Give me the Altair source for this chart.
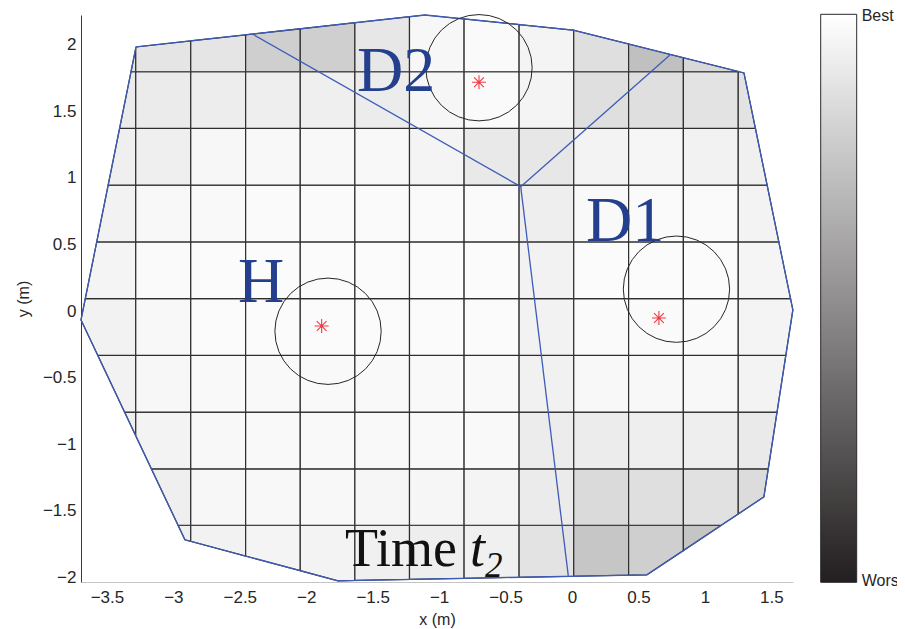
import altair as alt
import pandas as pd

# ---------------- data ----------------
# grid cell edges (m)
x_edges = [-3.695, -3.283, -2.869, -2.456, -2.045, -1.634, -1.223, -0.812,
           -0.398, 0.013, 0.426, 0.838, 1.251, 1.663]
y_edges = [-2.035, -1.609, -1.185, -0.759, -0.333, 0.093, 0.519, 0.945,
           1.371, 1.797, 2.223]

# cell scores (0 = Worst, 1 = Best), rows listed from top to bottom
score_rows = [
    [0.886, 0.882, 0.886, 0.786, 0.786, 0.895, 0.964, 0.977, 0.950, 0.859, 0.718, 0.827, 0.827],
    [0.909, 0.909, 0.918, 0.923, 0.927, 0.914, 0.959, 0.977, 0.950, 0.855, 0.859, 0.877, 0.877],
    [0.927, 0.927, 0.964, 0.968, 0.968, 0.968, 0.950, 0.900, 0.891, 0.945, 0.959, 0.941, 0.932],
    [0.941, 0.968, 0.973, 0.977, 0.977, 0.977, 0.977, 0.977, 0.923, 0.973, 0.977, 0.977, 0.945],
    [0.950, 0.977, 0.982, 0.982, 0.982, 0.982, 0.982, 0.982, 0.941, 0.982, 0.982, 0.982, 0.955],
    [0.941, 0.968, 0.982, 0.982, 0.982, 0.982, 0.982, 0.982, 0.941, 0.977, 0.977, 0.977, 0.950],
    [0.941, 0.964, 0.973, 0.973, 0.973, 0.973, 0.973, 0.973, 0.936, 0.968, 0.968, 0.968, 0.945],
    [0.927, 0.945, 0.968, 0.973, 0.973, 0.973, 0.973, 0.973, 0.914, 0.914, 0.923, 0.923, 0.905],
    [0.927, 0.927, 0.964, 0.968, 0.968, 0.959, 0.959, 0.950, 0.909, 0.836, 0.859, 0.864, 0.845],
    [0.927, 0.927, 0.941, 0.950, 0.945, 0.932, 0.923, 0.932, 0.873, 0.745, 0.786, 0.741, 0.845],
]

# outer boundary (convex hull) vertices
hull_x = [-3.281, -1.107, 0.007, 1.294, 1.662, 1.444, 0.564, -1.761, -2.913, -3.695]
hull_y = [1.983, 2.223, 2.110, 1.788, 0.008, -1.396, -1.981, -2.026, -1.718, -0.067]

# partition lines: from junction to three boundary points
junction = (-0.386, 0.934)
part_x = [-2.401, 0.737, -0.028]
part_y = [2.078, 1.923, -1.989]

# agents: circle centres, estimated positions (stars), labels
agent_names = ["H", "D2", "D1"]
circle_x = [-1.836, -0.700, 0.786]
circle_y = [-0.152, 1.827, 0.164]
circle_r = 0.40
star_x = [-1.884, -0.700, 0.654]
star_y = [-0.112, 1.718, -0.052]
label_x = [-2.514, -1.618, 0.105]
label_y = [0.068, 1.655, 0.529]

time_text = ["Time", "t", "2"]
time_x = [-1.709, -0.768, -0.655]
time_y = [-1.914, -1.914, -1.994]

x_ticks = [-3.5, -3, -2.5, -2, -1.5, -1, -0.5, 0, 0.5, 1, 1.5]
y_ticks = [-2, -1.5, -1, -0.5, 0, 0.5, 1, 1.5, 2]

# colour-bar end labels (score positions)
bar_values = [0.002, 0.997]

# ---------------- geometry helpers ----------------
hull = list(zip(hull_x, hull_y))


def clip_to_hull(poly, hull_pts):
    n = len(hull_pts)
    area = sum(hull_pts[i][0] * hull_pts[(i + 1) % n][1] - hull_pts[(i + 1) % n][0] * hull_pts[i][1]
               for i in range(n))
    sign = 1 if area > 0 else -1
    out = poly
    for i in range(n):
        a = hull_pts[i]
        b = hull_pts[(i + 1) % n]
        inp, out = out, []
        if not inp:
            break

        def side(p):
            return sign * ((b[0] - a[0]) * (p[1] - a[1]) - (b[1] - a[1]) * (p[0] - a[0]))

        for j in range(len(inp)):
            p, q = inp[j], inp[(j + 1) % len(inp)]
            sp, sq = side(p), side(q)
            if sp >= 0:
                out.append(p)
            if (sp >= 0) != (sq >= 0):
                t = sp / (sp - sq)
                out.append((p[0] + t * (q[0] - p[0]), p[1] + t * (q[1] - p[1])))
    return out


cell_rows = []
nrows = len(y_edges) - 1
for r in range(nrows):
    for c in range(len(x_edges) - 1):
        x0, x1 = x_edges[c], x_edges[c + 1]
        y0, y1 = y_edges[r], y_edges[r + 1]
        poly = clip_to_hull([(x0, y0), (x1, y0), (x1, y1), (x0, y1)], hull)
        if len(poly) < 3:
            continue
        poly = poly + [poly[0]]
        s = score_rows[nrows - 1 - r][c]
        for k, (px, py) in enumerate(poly):
            cell_rows.append({"cell": f"c{r}_{c}", "k": k, "x": px, "y": py, "score": s})
cells = pd.DataFrame(cell_rows)

line_rows = []
for k, (hx, hy) in enumerate(hull + [hull[0]]):
    line_rows.append({"seg": "hull", "k": k, "x": hx, "y": hy})
for i, (ex, ey) in enumerate(zip(part_x, part_y)):
    line_rows.append({"seg": f"p{i}", "k": 0, "x": junction[0], "y": junction[1]})
    line_rows.append({"seg": f"p{i}", "k": 1, "x": ex, "y": ey})
lines = pd.DataFrame(line_rows)

agents = pd.DataFrame({"name": agent_names, "cx": circle_x, "cy": circle_y,
                       "sx": star_x, "sy": star_y, "lx": label_x, "ly": label_y})
time_df = pd.DataFrame({"text": time_text, "x": time_x, "y": time_y})

# ---------------- chart ----------------
W, H = 712, 567
XD = [x_edges[0], x_edges[-1]]
YD = [y_edges[0], y_edges[-1]]
px_per_m = W / (XD[1] - XD[0])
circle_size = (2 * circle_r * px_per_m) ** 2

TXT = "#262626"
xscale = alt.Scale(domain=XD, nice=False, zero=False)
yscale = alt.Scale(domain=YD, nice=False, zero=False)
xaxis = alt.Axis(values=x_ticks, format="~g", title="x (m)", ticks=False, grid=False,
                 domainColor="#c4c4c4", labelPadding=7, titlePadding=6,
                 labelFontSize=17, titleFontSize=16, titleFontWeight="normal",
                 labelColor=TXT, titleColor=TXT, labelFlush=False, labelOverlap=False)
yaxis = alt.Axis(values=y_ticks, format="~g", title="y (m)", ticks=False, grid=False,
                 domainColor="#3a3a3a", labelPadding=5, titlePadding=11,
                 labelFontSize=17, titleFontSize=16, titleFontWeight="normal",
                 labelColor=TXT, titleColor=TXT, labelFlush=False, labelOverlap=False)


def X(field):
    return alt.X(f"{field}:Q", scale=xscale, axis=xaxis)


def Y(field):
    return alt.Y(f"{field}:Q", scale=yscale, axis=yaxis)


cell_layer = alt.Chart(cells).mark_line(stroke="#2e2e2e", strokeWidth=1.2).encode(
    x=X("x"), y=Y("y"), order="k:Q", detail="cell:N",
    fill=alt.Fill("score:Q",
                  scale=alt.Scale(domain=[0, 1], range=["#231f20", "#ffffff"], interpolate="rgb"),
                  legend=alt.Legend(orient="none", legendX=739.7, legendY=-0.7,
                                    direction="vertical", gradientLength=568,
                                    gradientThickness=36, gradientStrokeColor="#2a2a2a",
                                    gradientStrokeWidth=1, title=None, values=bar_values,
                                    labelExpr="datum.value >= 0.5 ? 'Best' : 'Worst'",
                                    labelFontSize=16, labelColor=TXT, labelOffset=5,
                                    labelBaseline="middle", labelFont="Liberation Sans",
                                    labelOverlap=False)),
)

line_layer = alt.Chart(lines).mark_line(color="#3d5cb8", strokeWidth=1.3).encode(
    x=X("x"), y=Y("y"), order="k:Q", detail="seg:N"
)

circle_layer = alt.Chart(agents).mark_point(
    shape="circle", filled=False, stroke="#262626", strokeWidth=1, opacity=1, size=circle_size
).encode(x=X("cx"), y=Y("cy"))

STAR = "M-1,0L1,0M0,-1L0,1M-0.7,-0.7L0.7,0.7M-0.7,0.7L0.7,-0.7"
star_layer = alt.Chart(agents).mark_point(
    shape=STAR, filled=False, stroke="#f23a45", strokeWidth=1.1, opacity=1, size=196
).encode(x=X("sx"), y=Y("sy"))

label_layer = alt.Chart(agents).mark_text(
    font="Liberation Serif", fontSize=64, color="#233f8e", align="left", baseline="alphabetic"
).encode(x=X("lx"), y=Y("ly"), text="name:N")

time_main = alt.Chart(time_df).transform_filter("datum.text == 'Time'").mark_text(
    font="Liberation Serif", fontSize=54, color="#111111", align="left", baseline="alphabetic"
).encode(x=X("x"), y=Y("y"), text="text:N")
time_t = alt.Chart(time_df).transform_filter("datum.text == 't'").mark_text(
    font="Liberation Serif", fontSize=54, fontStyle="italic", color="#111111",
    align="left", baseline="alphabetic"
).encode(x=X("x"), y=Y("y"), text="text:N")
time_sub = alt.Chart(time_df).transform_filter("datum.text == '2'").mark_text(
    font="Liberation Serif", fontSize=35, fontStyle="italic", color="#111111",
    align="left", baseline="alphabetic"
).encode(x=X("x"), y=Y("y"), text="text:N")

chart = alt.layer(
    cell_layer, line_layer, circle_layer, star_layer, label_layer, time_main, time_t, time_sub
).properties(
    width=W, height=H,
    autosize=alt.AutoSizeParams(type="none"),
    padding={"left": 73, "top": 7, "right": 104, "bottom": 52},
    background="white",
).configure(font="Liberation Sans").configure_view(stroke=None)

chart.save("out.html", embed_options={"renderer": "svg", "actions": False})
